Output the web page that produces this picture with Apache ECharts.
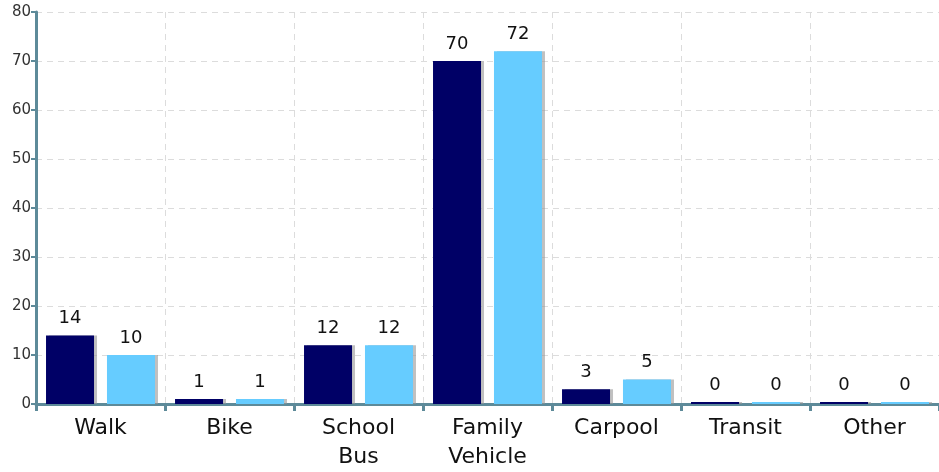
<!DOCTYPE html>
<html><head><meta charset="utf-8">
<script src="https://cdn.jsdelivr.net/npm/echarts@6/dist/echarts.min.js"></script>
<style>html,body{margin:0;padding:0;background:#fff}#c{width:939px;height:472px}</style>
</head><body><div id="c"></div>
<script>
const categories = ['Walk', 'Bike', 'School\nBus', 'Family\nVehicle', 'Carpool', 'Transit', 'Other'];
const seriesA = [14, 1, 12, 70, 3, 0, 0];
const seriesB = [10, 1, 12, 72, 5, 0, 0];
const yTicks = {min: 0, max: 80, interval: 10};

const chart = echarts.init(document.getElementById('c'));
const barStyle = (color) => ({
  type: 'bar',
  barWidth: 48,
  barMinHeight: 2,
  itemStyle: {color: color, shadowColor: 'rgba(150,150,150,0.6)', shadowOffsetX: 3, shadowOffsetY: 0, shadowBlur: 0},
  label: {show: true, position: 'top', distance: 8, color: '#111', fontSize: 18, fontFamily: 'DejaVu Sans'}
});
chart.setOption({
  animation: false,
  grid: {left: 36, right: -3, top: 12, bottom: 64, containLabel: false},
  xAxis: {
    type: 'category', data: categories,
    axisLine: {lineStyle: {color: '#5d8a99', width: 3}},
    axisTick: {show: true, length: 7, lineStyle: {color: '#5d8a99', width: 3}},
    axisLabel: {color: '#111', fontSize: 22, fontFamily: 'DejaVu Sans', margin: 10, lineHeight: 29},
    splitLine: {show: true, lineStyle: {color: '#dcdcdc', type: [6, 5], width: 1}}
  },
  yAxis: {
    type: 'value', min: yTicks.min, max: yTicks.max, interval: yTicks.interval,
    axisLine: {show: true, lineStyle: {color: '#5d8a99', width: 3}},
    axisTick: {show: true, length: 5, lineStyle: {color: '#5d8a99', width: 2}},
    axisLabel: {color: '#333', fontSize: 15, fontFamily: 'DejaVu Sans', margin: 5},
    splitLine: {show: true, lineStyle: {color: '#dcdcdc', type: [6, 5], width: 1}}
  },
  series: [
    Object.assign(barStyle('#000066'), {data: seriesA, barGap: '27%'}),
    Object.assign(barStyle('#66ccff'), {data: seriesB})
  ]
});
</script></body></html>
